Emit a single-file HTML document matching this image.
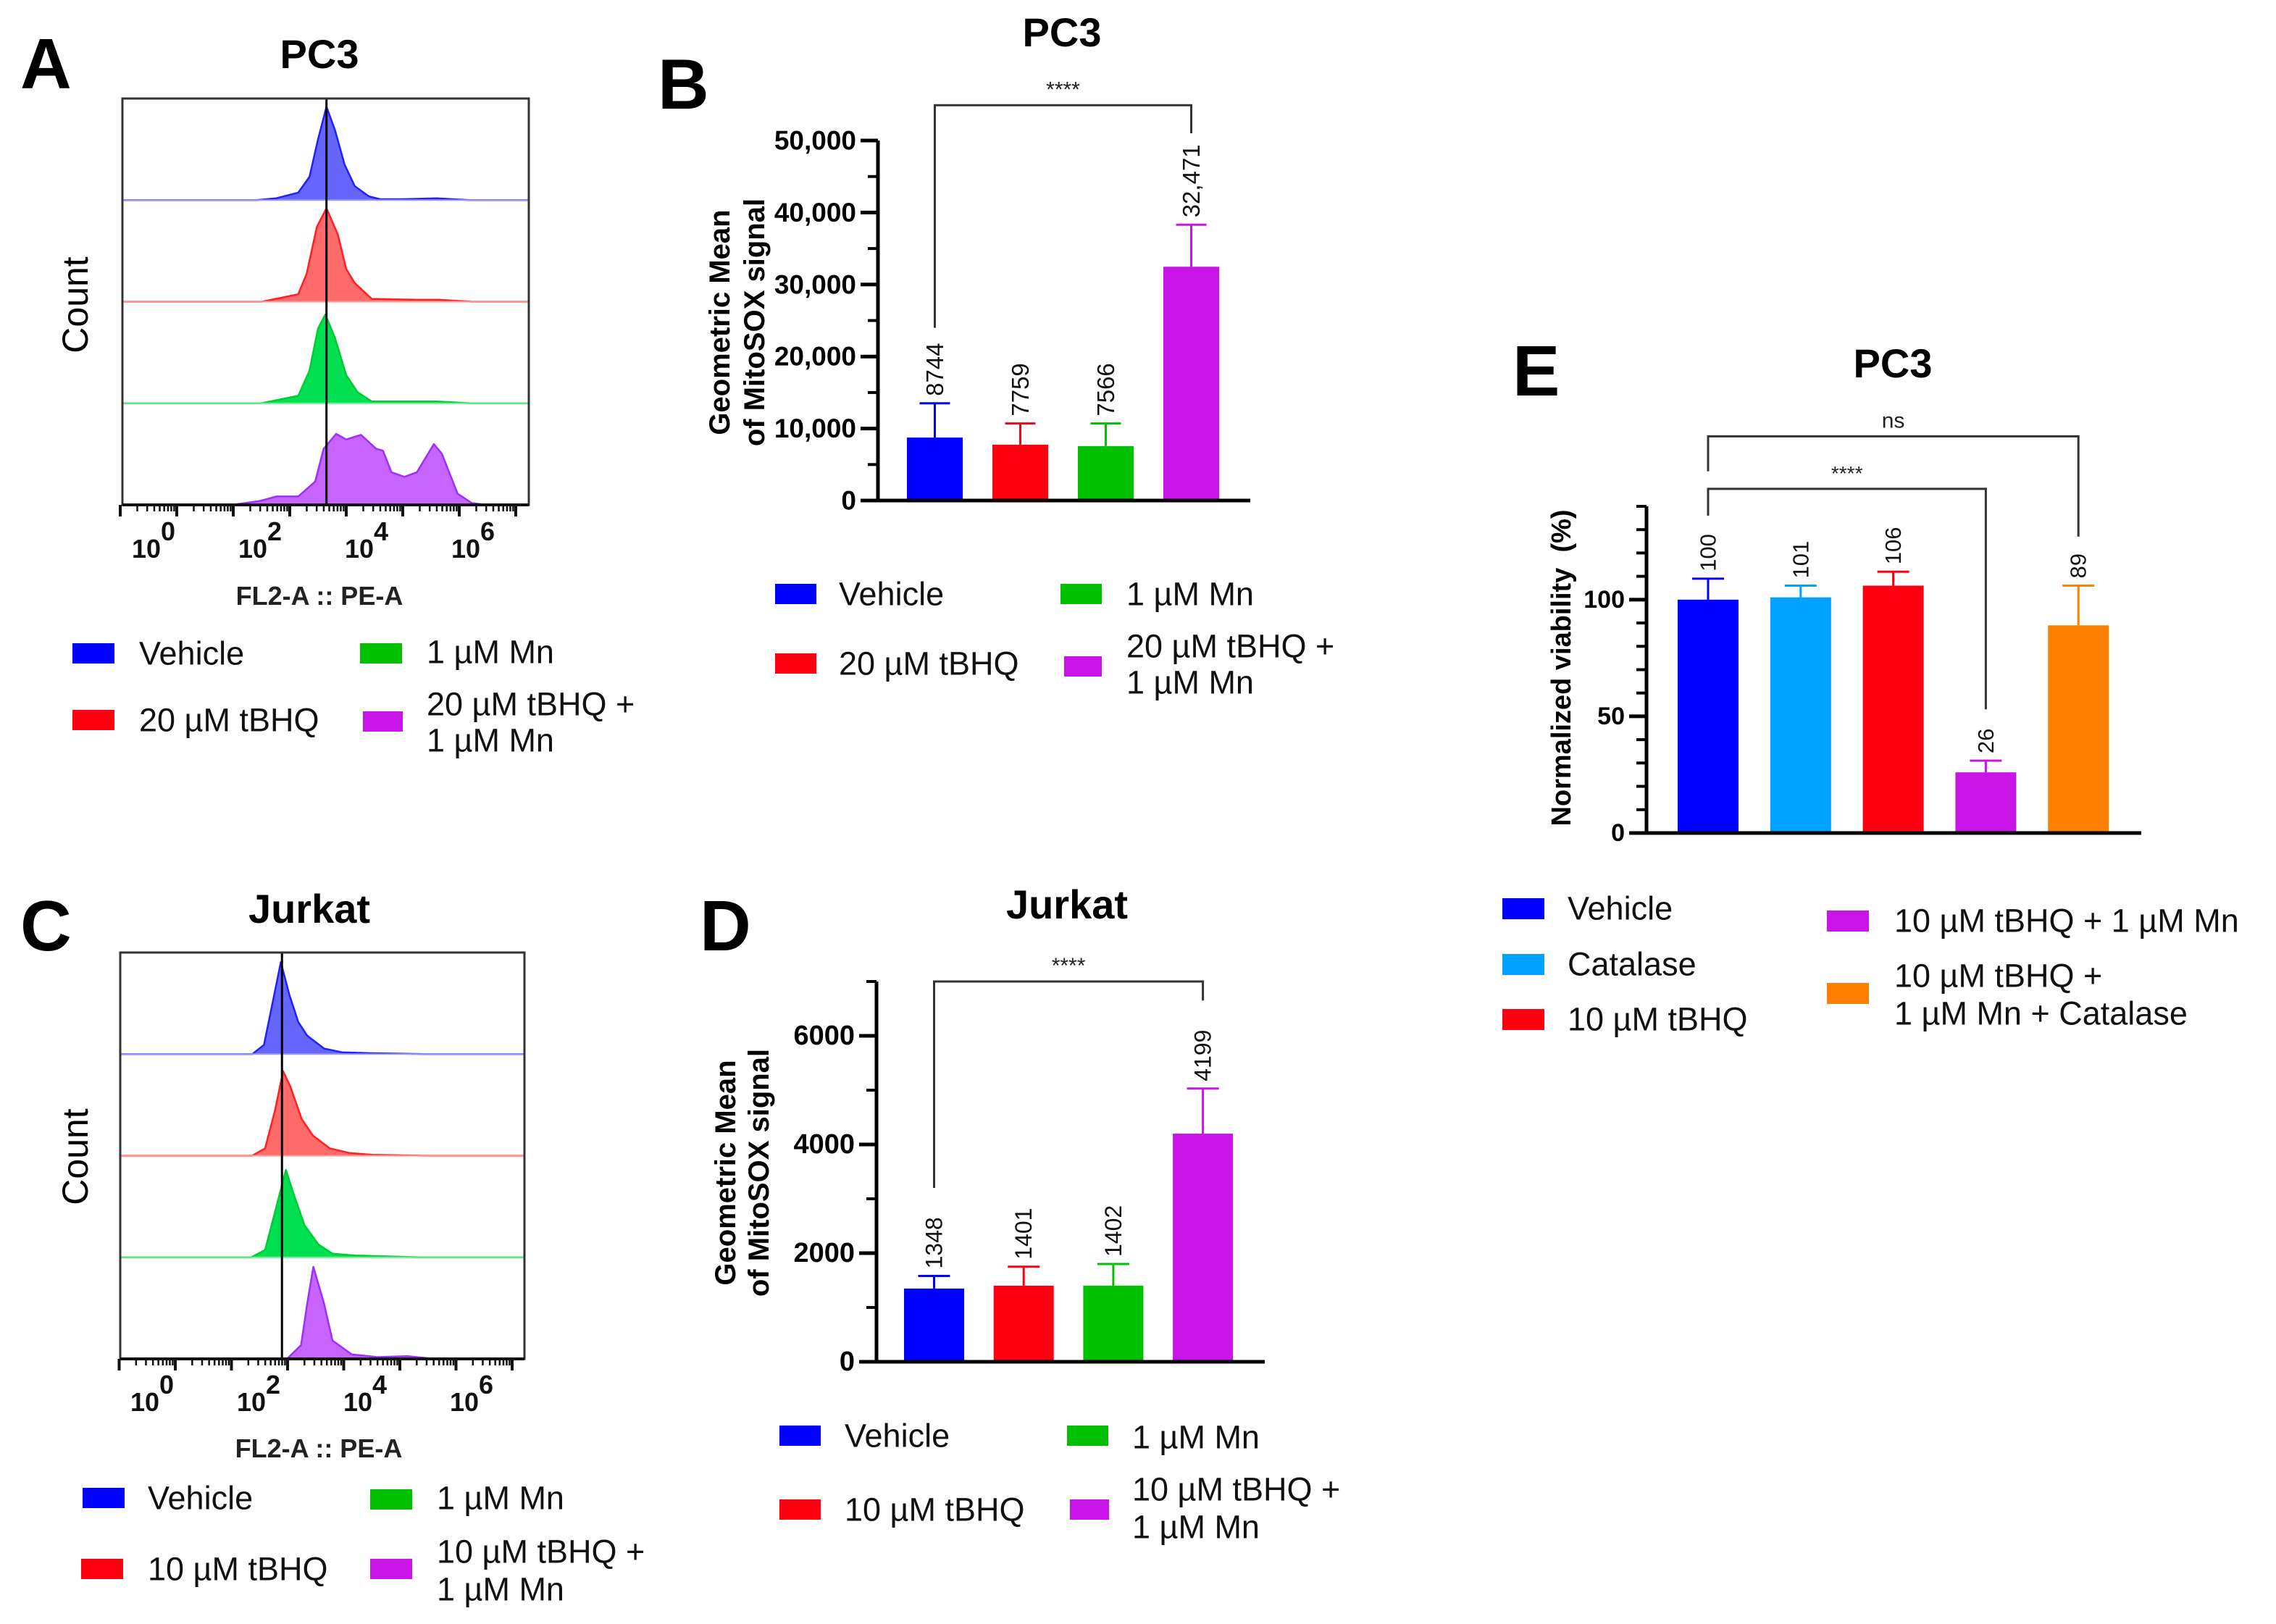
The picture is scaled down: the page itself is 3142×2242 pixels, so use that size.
<!DOCTYPE html>
<html><head><meta charset="utf-8">
<style>
html,body{margin:0;padding:0;background:#fff;}
svg{display:block;font-family:"Liberation Sans",Arial,sans-serif;}
.lg{font-size:45px;fill:#111;}
.ttl{font-size:56px;font-weight:bold;fill:#000;}
.let{font-size:98px;font-weight:bold;fill:#000;}
</style></head>
<body>
<svg id="fig" width="3142" height="2242" viewBox="0 0 3142 2242" xmlns="http://www.w3.org/2000/svg">
<rect width="3142" height="2242" fill="#fff"/>
<text class="let" x="28" y="122">A</text>
<text class="let" x="908" y="150">B</text>
<text class="let" x="28" y="1312">C</text>
<text class="let" x="966" y="1312">D</text>
<text class="let" x="2088" y="546">E</text>
<text class="ttl" x="441" y="94" text-anchor="middle">PC3</text>
<text class="ttl" x="1466" y="64" text-anchor="middle">PC3</text>
<text class="ttl" x="427" y="1274" text-anchor="middle">Jurkat</text>
<text class="ttl" x="1473" y="1268" text-anchor="middle">Jurkat</text>
<text class="ttl" x="2613" y="521" text-anchor="middle">PC3</text>

<text x="104" y="421" font-size="50" text-anchor="middle" dominant-baseline="central" transform="rotate(-90 104 421)">Count</text>
<text x="441" y="835" font-size="36" font-weight="bold" text-anchor="middle" fill="#222">FL2-A :: PE-A</text>
<text x="104" y="1597" font-size="50" text-anchor="middle" dominant-baseline="central" transform="rotate(-90 104 1597)">Count</text>
<text x="440" y="2012" font-size="36" font-weight="bold" text-anchor="middle" fill="#222">FL2-A :: PE-A</text>

<g font-size="40" font-weight="bold" text-anchor="middle">
<text x="994" y="445" dominant-baseline="central" transform="rotate(-90 994 445)">Geometric Mean</text>
<text x="1042" y="445" dominant-baseline="central" transform="rotate(-90 1042 445)">of MitoSOX signal</text>
</g>
<g font-size="40" font-weight="bold" text-anchor="middle">
<text x="1002" y="1619" dominant-baseline="central" transform="rotate(-90 1002 1619)">Geometric Mean</text>
<text x="1048" y="1619" dominant-baseline="central" transform="rotate(-90 1048 1619)">of MitoSOX signal</text>
</g>
<text x="2156" y="922" font-size="38" font-weight="bold" text-anchor="middle" dominant-baseline="central" transform="rotate(-90 2156 922)" xml:space="preserve">Normalized viability  (%)</text>

<g>
<rect x="100" y="888" width="58" height="28" fill="#0000ff"/><text class="lg" x="192" y="902" dominant-baseline="central">Vehicle</text>
<rect x="497" y="888" width="58" height="28" fill="#00c000"/><text class="lg" x="589" y="900" dominant-baseline="central">1 µM Mn</text>
<rect x="100" y="980" width="58" height="28" fill="#ff0010"/><text class="lg" x="192" y="994" dominant-baseline="central">20 µM tBHQ</text>
<rect x="501" y="982" width="55" height="28" fill="#c814e6"/><text class="lg" x="589" y="972" dominant-baseline="central">20 µM tBHQ +</text><text class="lg" x="589" y="1022" dominant-baseline="central">1 µM Mn</text>
</g>
<g>
<rect x="1070" y="806" width="57" height="28" fill="#0000ff"/><text class="lg" x="1158" y="820" dominant-baseline="central">Vehicle</text>
<rect x="1464" y="806" width="57" height="28" fill="#00c000"/><text class="lg" x="1555" y="820" dominant-baseline="central">1 µM Mn</text>
<rect x="1070" y="902" width="57" height="28" fill="#ff0010"/><text class="lg" x="1158" y="916" dominant-baseline="central">20 µM tBHQ</text>
<rect x="1469" y="906" width="52" height="28" fill="#c814e6"/><text class="lg" x="1555" y="892" dominant-baseline="central">20 µM tBHQ +</text><text class="lg" x="1555" y="942" dominant-baseline="central">1 µM Mn</text>
</g>
<g>
<rect x="114" y="2054" width="58" height="28" fill="#0000ff"/><text class="lg" x="204" y="2068" dominant-baseline="central">Vehicle</text>
<rect x="511" y="2056" width="58" height="28" fill="#00c000"/><text class="lg" x="603" y="2068" dominant-baseline="central">1 µM Mn</text>
<rect x="112" y="2152" width="58" height="28" fill="#ff0010"/><text class="lg" x="204" y="2166" dominant-baseline="central">10 µM tBHQ</text>
<rect x="511" y="2152" width="58" height="28" fill="#c814e6"/><text class="lg" x="603" y="2142" dominant-baseline="central">10 µM tBHQ +</text><text class="lg" x="603" y="2194" dominant-baseline="central">1 µM Mn</text>
</g>
<g>
<rect x="1076" y="1968" width="57" height="28" fill="#0000ff"/><text class="lg" x="1166" y="1982" dominant-baseline="central">Vehicle</text>
<rect x="1473" y="1968" width="57" height="28" fill="#00c000"/><text class="lg" x="1563" y="1984" dominant-baseline="central">1 µM Mn</text>
<rect x="1076" y="2070" width="57" height="28" fill="#ff0010"/><text class="lg" x="1166" y="2084" dominant-baseline="central">10 µM tBHQ</text>
<rect x="1477" y="2070" width="54" height="28" fill="#c814e6"/><text class="lg" x="1563" y="2056" dominant-baseline="central">10 µM tBHQ +</text><text class="lg" x="1563" y="2108" dominant-baseline="central">1 µM Mn</text>
</g>
<g>
<rect x="2074" y="1240" width="58" height="29" fill="#0000ff"/><text class="lg" x="2164" y="1254" dominant-baseline="central">Vehicle</text>
<rect x="2074" y="1317" width="58" height="29" fill="#00a2ff"/><text class="lg" x="2164" y="1331" dominant-baseline="central">Catalase</text>
<rect x="2074" y="1393" width="58" height="29" fill="#ff0010"/><text class="lg" x="2164" y="1407" dominant-baseline="central">10 µM tBHQ</text>
<rect x="2522" y="1257" width="58" height="29" fill="#c814e6"/><text class="lg" x="2615" y="1271" dominant-baseline="central">10 µM tBHQ + 1 µM Mn</text>
<rect x="2522" y="1357" width="58" height="29" fill="#ff8000"/><text class="lg" x="2615" y="1347" dominant-baseline="central">10 µM tBHQ +</text><text class="lg" x="2615" y="1399" dominant-baseline="central">1 µM Mn + Catalase</text>
</g>
<g id="plots"></g>
</svg>
<script>
const histA_blue_x = [1.41,1.76,2.15,2.35,2.5,2.65,2.8,2.97,3.15,3.4,3.6,4.0,4.6,5.18];
const histA_blue_y = [0,0.02,0.08,0.25,0.65,1.0,0.75,0.38,0.15,0.04,0.01,0.01,0.02,0];
const histA_red_x = [1.51,2.15,2.3,2.48,2.65,2.85,3.0,3.15,3.45,4.25,4.65,5.23];
const histA_red_y = [0,0.08,0.3,0.8,1.0,0.72,0.35,0.2,0.03,0.02,0.02,0];
const histA_green_x = [1.49,2.15,2.35,2.5,2.63,2.8,3.0,3.2,3.45,4.6,5.2];
const histA_green_y = [0,0.08,0.35,0.8,0.95,0.7,0.3,0.12,0.02,0.02,0];
const histA_purple_x = [0.98,1.46,1.76,2.15,2.45,2.6,2.82,3.0,3.26,3.53,3.65,3.8,4.03,4.25,4.55,4.69,4.97,5.22,5.47];
const histA_purple_y = [0,0.04,0.09,0.09,0.25,0.6,0.76,0.7,0.75,0.6,0.58,0.35,0.3,0.35,0.65,0.55,0.12,0.02,0];
const histC_blue_x = [1.37,1.58,1.73,1.88,2.03,2.19,2.35,2.65,2.97,3.5,4.47];
const histC_blue_y = [0,0.1,0.55,1.0,0.65,0.35,0.2,0.06,0.02,0.01,0];
const histC_red_x = [1.37,1.6,1.78,1.92,2.05,2.25,2.45,2.75,3.1,3.5,4.45];
const histC_red_y = [0,0.08,0.5,0.92,0.75,0.4,0.22,0.08,0.03,0.01,0];
const histC_green_x = [1.35,1.6,1.78,1.97,2.1,2.3,2.55,2.8,3.2,4.35];
const histC_green_y = [0,0.08,0.5,0.95,0.7,0.35,0.14,0.04,0.02,0];
const histC_purple_x = [1.99,2.24,2.35,2.46,2.65,2.8,3.14,3.6,4.13,4.63];
const histC_purple_y = [0,0.15,0.6,1.0,0.6,0.2,0.05,0.02,0.03,0];
const histGateA = 2.65;
const histGateC = 1.9;
const histDecadeLabels = [0,2,4,6];

const catsB = ["Vehicle","20 µM tBHQ","1 µM Mn","20 µM tBHQ + 1 µM Mn"];
const valsB = [8744,7759,7566,32471];
const sdB = [4756,2941,3134,5829];
const labelsB = ["8744","7759","7566","32,471"];
const ticksB = [0,10000,20000,30000,40000,50000];
const tickLabelsB = ["0","10,000","20,000","30,000","40,000","50,000"];

const catsD = ["Vehicle","10 µM tBHQ","1 µM Mn","10 µM tBHQ + 1 µM Mn"];
const valsD = [1348,1401,1402,4199];
const sdD = [232,349,398,831];
const labelsD = ["1348","1401","1402","4199"];
const ticksD = [0,2000,4000,6000];
const tickLabelsD = ["0","2000","4000","6000"];

const catsE = ["Vehicle","Catalase","10 µM tBHQ","10 µM tBHQ + 1 µM Mn","10 µM tBHQ + 1 µM Mn + Catalase"];
const valsE = [100,101,106,26,89];
const sdE = [9,5,6,5,17];
const labelsE = ["100","101","106","26","89"];
const ticksE = [0,50,100];
const tickLabelsE = ["0","50","100"];

const NS = "http://www.w3.org/2000/svg";
const root = document.getElementById('plots');
function mk(tag, attrs, parent){
  const e = document.createElementNS(NS, tag);
  for (const k in attrs) e.setAttribute(k, attrs[k]);
  (parent||root).appendChild(e);
  return e;
}

function histPanel(o){
  const g = mk('g', {});
  
  
  const xs = d => o.x0 + o.dec*d;
  const rowH = (o.bottom - o.top)/4;
  o.series.forEach((s, i) => {
    const base = o.top + rowH*(i+1);
    const ys = v => base - v*o.peak;
    let dstr = 'M' + o.left + ',' + base + ' L' + xs(s.x[0]) + ',' + base;
    for (let k=0;k<s.x.length;k++) dstr += ' L' + xs(s.x[k]).toFixed(1) + ',' + ys(s.y[k]).toFixed(1);
    let area = dstr + ' L' + xs(s.x[s.x.length-1]) + ',' + base + ' Z';
    const a = mk('path', {d: area, fill: s.fill, stroke: 'none'}, g);
    
    
    const l = mk('path', {d: dstr + ' L' + o.right + ',' + base, fill: 'none', stroke: s.stroke, 'stroke-width': 2.5, 'stroke-linejoin':'round'}, g);
    
    
    const bl = mk('line', {x1: o.left, x2: o.right, y1: base, y2: base, stroke: s.base, 'stroke-width': 2}, g);
    
    
  });
  const gate = mk('line', {x1: xs(o.gate), x2: xs(o.gate), y1: o.top, y2: o.bottom, stroke: '#000', 'stroke-width': 3}, g);
  
  
  const box = mk('rect', {x: o.left, y: o.top, width: o.right-o.left, height: o.bottom-o.top, fill: 'none', stroke: '#333', 'stroke-width': 3}, g);
  
  
  mk('line', {x1: o.left, x2: o.right, y1: o.bottom, y2: o.bottom, stroke: '#111', 'stroke-width': 4}, g);
  for (let d=-1; d<=6; d++){
    const t = mk('line', {x1: xs(d), x2: xs(d), y1: o.bottom, y2: o.bottom+16, stroke: '#111', 'stroke-width': 4}, g);
    
    
    if (d < 6) for (let m=2; m<=9; m++){
      const xm = xs(d + Math.log10(m));
      mk('line', {x1: xm, x2: xm, y1: o.bottom, y2: o.bottom+9, stroke: '#111', 'stroke-width': 2.5}, g);
    }
  }
  histDecadeLabels.forEach(d => {
    const lx = xs(0) - 42 + d*o.labelStep;
    const t = mk('text', {x: lx, y: o.labelY, 'font-size': 36, 'font-weight': 'bold', 'text-anchor': 'middle', fill: '#111'}, g);
    
    
    t.textContent = '10';
    const sp = mk('text', {x: lx+30, y: o.labelY-24, 'font-size': 36, 'font-weight': 'bold', 'text-anchor': 'middle', fill: '#111'}, g);
    
    
    sp.textContent = String(d);
  });
}

const histColors = [
  {nm:'vehicle', fill:'#6666ff', stroke:'#2020ff', base:'#9a9aff'},
  {nm:'tbhq', fill:'#ff6a6a', stroke:'#ff2020', base:'#ff9a9a'},
  {nm:'mn', fill:'#00e050', stroke:'#00cc33', base:'#66ee88'},
  {nm:'tbhq-mn', fill:'#c864ff', stroke:'#9a30ff', base:'#c890ff'}
];
histPanel({name:'histogram-panel-a', left:169, right:730, top:136, bottom:697, x0:244, dec:78, labelStep:73.5, peak:129, gate:histGateA, labelY:770,
  series:[
    Object.assign({x:histA_blue_x, y:histA_blue_y}, histColors[0]),
    Object.assign({x:histA_red_x, y:histA_red_y}, histColors[1]),
    Object.assign({x:histA_green_x, y:histA_green_y}, histColors[2]),
    Object.assign({x:histA_purple_x, y:histA_purple_y}, histColors[3])
  ]});
histPanel({name:'histogram-panel-c', left:166, right:724, top:1315, bottom:1876, x0:242, dec:77.5, labelStep:73.5, peak:127, gate:histGateC, labelY:1948,
  series:[
    Object.assign({x:histC_blue_x, y:histC_blue_y}, histColors[0]),
    Object.assign({x:histC_red_x, y:histC_red_y}, histColors[1]),
    Object.assign({x:histC_green_x, y:histC_green_y}, histColors[2]),
    Object.assign({x:histC_purple_x, y:histC_purple_y}, histColors[3])
  ]});

function barPanel(o){
  const g = mk('g', {});
  
  
  const ys = v => o.y0 - (v/o.vmax)*(o.y0 - o.ytop);
  o.vals.forEach((v, i) => {
    const x = o.barX0 + i*o.step;
    const cx = x + o.bw/2;
    const r = mk('rect', {x: x, y: ys(v), width: o.bw, height: o.y0 - ys(v), fill: o.colors[i]}, g);
    
    
    const top = ys(v + o.sd[i]);
    const e = mk('path', {d: 'M'+cx+','+ys(v)+' V'+top+' M'+(cx-o.cap)+','+top+' H'+(cx+o.cap), stroke: o.colors[i], 'stroke-width': 3, fill:'none'}, g);
    
    
    const t = mk('text', {x: cx, y: top - 10, 'font-size': o.vfs, 'dominant-baseline': 'central', transform: 'rotate(-90 '+cx+' '+(top-10)+')', fill:'#111'}, g);
    
    
    t.textContent = o.labels[i];
  });
  const ax = mk('path', {d: 'M'+o.ax+','+ys(o.vmax)+' V'+o.y0+' H'+o.axEnd, stroke:'#000', 'stroke-width': 5, fill:'none'}, g);
  
  
  for (let v=0; v<=o.vmax+1e-9; v+=o.minor){
    const y = ys(v);
    mk('line', {x1: o.ax-14, x2: o.ax, y1: y, y2: y, stroke:'#000', 'stroke-width': 4}, g);
  }
  o.ticks.forEach((v, i) => {
    const y = ys(v);
    const tk = mk('line', {x1: o.ax-24, x2: o.ax, y1: y, y2: y, stroke:'#000', 'stroke-width': 5}, g);
    
    
    const t = mk('text', {x: o.ax-30, y: y, 'font-size': o.tfs, 'font-weight':'bold', 'text-anchor':'end', 'dominant-baseline':'central'}, g);
    
    
    t.textContent = o.tickLabels[i];
  });
  o.brackets.forEach(b => {
    const x1 = o.barX0 + b.a*o.step + o.bw/2, x2 = o.barX0 + b.b*o.step + o.bw/2;
    const br = mk('path', {d: 'M'+x1+','+ys(b.la)+' V'+ys(b.top)+' H'+x2+' V'+ys(b.lb), stroke:'#333', 'stroke-width': 3, fill:'none'}, g);
    
    
    const t = mk('text', {x: (x1+x2)/2, y: ys(b.top) - 12, 'font-size': b.fs, 'text-anchor':'middle', fill:'#222'}, g);
    
    
    t.textContent = b.txt;
  });
}

barPanel({name:'bar-chart-b', vals:valsB, sd:sdB, labels:labelsB, keys:['vehicle','tbhq','mn','tbhq-mn'],
  colors:['#0000ff','#ff0010','#00c000','#c814e6'], ticks:ticksB, tickLabels:tickLabelsB,
  ax:1212, axEnd:1726, y0:691, ytop:194, vmax:50000, minor:5000, barX0:1252, step:118, bw:77, cap:21, vfs:33, tfs:37,
  brackets:[{a:0,b:3,top:54900,la:24000,lb:51000,txt:'****',fs:30}]});
barPanel({name:'bar-chart-d', vals:valsD, sd:sdD, labels:labelsD, keys:['vehicle','tbhq','mn','tbhq-mn'],
  colors:['#0000ff','#ff0010','#00c000','#c814e6'], ticks:ticksD, tickLabels:tickLabelsD,
  ax:1210, axEnd:1746, y0:1880, ytop:1355, vmax:7000, minor:1000, barX0:1248, step:123.7, bw:83, cap:22, vfs:32, tfs:38,
  brackets:[{a:0,b:3,top:7000,la:3200,lb:6650,txt:'****',fs:30}]});
barPanel({name:'bar-chart-e', vals:valsE, sd:sdE, labels:labelsE, keys:['vehicle','catalase','tbhq','tbhq-mn','tbhq-mn-catalase'],
  colors:['#0000ff','#00a2ff','#ff0010','#c814e6','#ff8000'], ticks:ticksE, tickLabels:tickLabelsE,
  ax:2273, axEnd:2956, y0:1150, ytop:699, vmax:140, minor:10, barX0:2316, step:127.8, bw:84, cap:22, vfs:31, tfs:34,
  brackets:[{a:0,b:4,top:170,la:155,lb:127,txt:'ns',fs:30},{a:0,b:3,top:147.5,la:136,lb:53,txt:'****',fs:28}]});
</script>
</body></html>
